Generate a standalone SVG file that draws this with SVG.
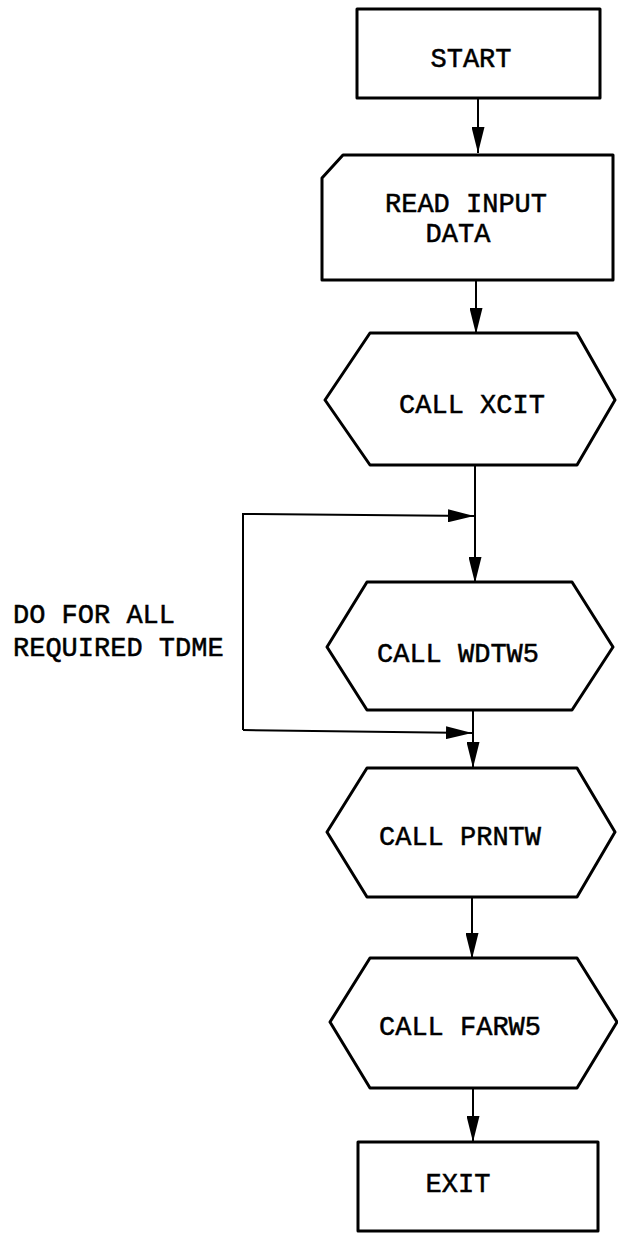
<svg xmlns="http://www.w3.org/2000/svg" width="618" height="1234" viewBox="0 0 618 1234">
<style>
.shape{fill:#fff;stroke:#000;stroke-width:3;stroke-linejoin:round}
.conn{fill:none;stroke:#000;stroke-width:2}
.t{font-family:"Liberation Mono","Courier New",monospace;font-size:27px;fill:#000;stroke:#000;stroke-width:0.5;text-anchor:middle}
.lbl{font-family:"Liberation Mono","Courier New",monospace;font-size:27px;fill:#000;stroke:#000;stroke-width:0.5}
</style>
<defs>
<marker id="ah" markerUnits="userSpaceOnUse" markerWidth="26" markerHeight="13" refX="26" refY="6.5" orient="auto">
<path d="M0,0 L26,6.5 L0,13 Z" fill="#000"/>
</marker>
</defs>
<rect width="618" height="1234" fill="#fff"/>
<g id="connectors">
<line class="conn" x1="478" y1="98" x2="478" y2="153" marker-end="url(#ah)"/>
<line class="conn" x1="476" y1="280" x2="476" y2="334" marker-end="url(#ah)"/>
<line class="conn" x1="475" y1="465" x2="475" y2="583" marker-end="url(#ah)"/>
<polyline class="conn" points="243,730 243,514 474,516" marker-end="url(#ah)"/>
<line class="conn" x1="473" y1="710" x2="473" y2="768" marker-end="url(#ah)"/>
<line class="conn" x1="243" y1="730" x2="472" y2="733" marker-end="url(#ah)"/>
<line class="conn" x1="472" y1="897" x2="472" y2="959" marker-end="url(#ah)"/>
<line class="conn" x1="473" y1="1088" x2="473" y2="1142" marker-end="url(#ah)"/>
</g>
<g id="start">
<rect class="shape" x="357" y="9" width="243" height="89"/>
<text class="t" x="471" y="67">START</text>
</g>
<g id="read">
<path class="shape" d="M343,155 L613,155 L613,280 L322,280 L322,178 Z"/>
<text class="t" x="466" y="212">READ INPUT</text>
<text class="t" x="458" y="242">DATA</text>
</g>
<g id="xcit">
<path class="shape" d="M370,333 L577,333 L615,400 L577,465 L370,465 L325,400 Z"/>
<text class="t" x="472" y="413">CALL XCIT</text>
</g>
<g id="label">
<text class="lbl" x="13" y="623">DO FOR ALL</text>
<text class="lbl" x="13" y="656">REQUIRED TDME</text>
</g>
<g id="wdtw5">
<path class="shape" d="M367,582 L572,582 L613,647 L572,710 L367,710 L327,647 Z"/>
<text class="t" x="458" y="662">CALL WDTW5</text>
</g>
<g id="prntw">
<path class="shape" d="M367,768 L577,768 L615,832 L577,897 L367,897 L327,832 Z"/>
<text class="t" x="460" y="845">CALL PRNTW</text>
</g>
<g id="farw5">
<path class="shape" d="M370,958 L577,958 L617,1022 L577,1088 L370,1088 L330,1022 Z"/>
<text class="t" x="460" y="1035">CALL FARW5</text>
</g>
<g id="exit">
<rect class="shape" x="358" y="1142" width="240" height="89"/>
<text class="t" x="458" y="1192">EXIT</text>
</g>
</svg>
